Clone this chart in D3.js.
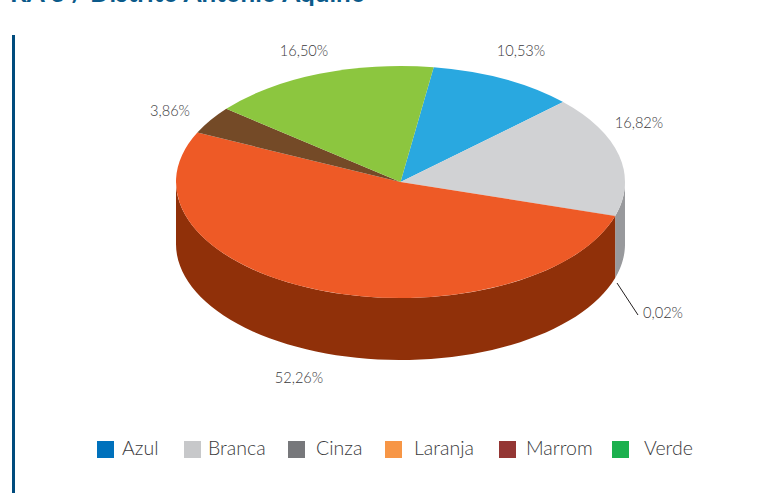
<!DOCTYPE html>
<html>
<head>
<meta charset="utf-8">
<script src="https://cdn.jsdelivr.net/npm/d3@7"></script>
<style>
html, body { margin: 0; padding: 0; background: #fff; overflow: hidden; }
text { font-family: Lato, "Open Sans", sans-serif; font-weight: 300; fill: #3a3a3c; }
</style>
</head>
<body>
<div id="chart"></div>
<script>
let categories = ['Azul', 'Branca', 'Cinza', 'Laranja', 'Marrom', 'Verde'];
let values = [10.53, 16.82, 0.02, 52.26, 3.86, 16.50];
let valueLabels = ['10,53%', '16,82%', '0,02%', '52,26%', '3,86%', '16,50%'];
let legendColors = ['#0071bc', '#c7c8ca', '#77787b', '#f79646', '#943634', '#1bb04e'];
let topColors = ['#29a8e0', '#d1d2d4', '#98999c', '#ee5a26', '#744a27', '#8cc63f'];
let sideColors = ['#1b7da8', '#98999c', '#98999c', '#903009', '#4f3219', '#5f8a2a'];

const width = 759, height = 493;
const cx = 400.5, cy = 182, rx = 224.5, ry = 116, depth = 62;
const startAngle = 8.5 * Math.PI / 180;

const svg = d3.select('#chart').append('svg')
    .attr('width', width)
    .attr('height', height)
    .attr('viewBox', [0, 0, width, height]);

// title is cut off by the crop of the page
svg.append('text')
    .attr('x', 10)
    .attr('y', 2)
    .style('font-size', '26px')
    .style('font-weight', 700)
    .style('fill', '#0b5a8a')
    .text('RA 3 / Distrito Antonio Aquino');

svg.append('rect')
    .attr('x', 12)
    .attr('y', 35)
    .attr('width', 3)
    .attr('height', height - 35)
    .attr('fill', '#004b7d');

const pie = d3.pie()
    .sort(null)
    .startAngle(startAngle)
    .endAngle(startAngle + 2 * Math.PI);
const arcs = pie(values);

// rim of the pie: only the front half (90deg to 270deg from the top) can be seen
const px = a => cx + rx * Math.sin(a);
const py = a => cy - ry * Math.cos(a);
const sidePath = d => {
    const a0 = Math.max(d.startAngle, Math.PI / 2), a1 = Math.min(d.endAngle, 3 * Math.PI / 2);
    if (a1 <= a0) return null;
    const angles = d3.range(0, 61).map(i => a0 + (a1 - a0) * i / 60);
    const area = d3.area()
        .x(a => px(a))
        .y0(a => py(a))
        .y1(a => py(a) + depth);
    return area(angles);
};

svg.append('g')
    .selectAll('path')
    .data(arcs)
    .join('path')
    .attr('d', sidePath)
    .attr('fill', (d, i) => sideColors[i]);

const arc = d3.arc().innerRadius(0).outerRadius(rx);

svg.append('g')
    .attr('transform', `translate(${cx},${cy}) scale(1,${ry / rx})`)
    .selectAll('path')
    .data(arcs)
    .join('path')
    .attr('d', arc)
    .attr('fill', (d, i) => topColors[i]);

// value labels, placed by hand around the pie
const labelX = [521, 639, 663, 299, 170, 304];
const labelY = [56, 128, 318, 383, 116, 56];
svg.append('g')
    .selectAll('text')
    .data(valueLabels)
    .join('text')
    .attr('x', (d, i) => labelX[i])
    .attr('y', (d, i) => labelY[i])
    .attr('text-anchor', 'middle')
    .style('font-size', '14.6px')
    .text(d => d);

svg.append('line')
    .attr('x1', 617)
    .attr('y1', 283)
    .attr('x2', 638)
    .attr('y2', 315)
    .attr('stroke', '#231f20')
    .attr('stroke-width', 1);

// legend
const swatchX = [97, 184, 288, 385, 499, 612];
const legendTextX = [122, 208, 316, 414, 526, 644];
svg.append('g')
    .selectAll('rect')
    .data(categories)
    .join('rect')
    .attr('x', (d, i) => swatchX[i])
    .attr('y', 441)
    .attr('width', 17)
    .attr('height', 17)
    .attr('fill', (d, i) => legendColors[i]);
svg.append('g')
    .selectAll('text')
    .data(categories)
    .join('text')
    .attr('x', (d, i) => legendTextX[i])
    .attr('y', 455)
    .style('font-size', '19.5px')
    .text(d => d);
</script>
</body>
</html>
